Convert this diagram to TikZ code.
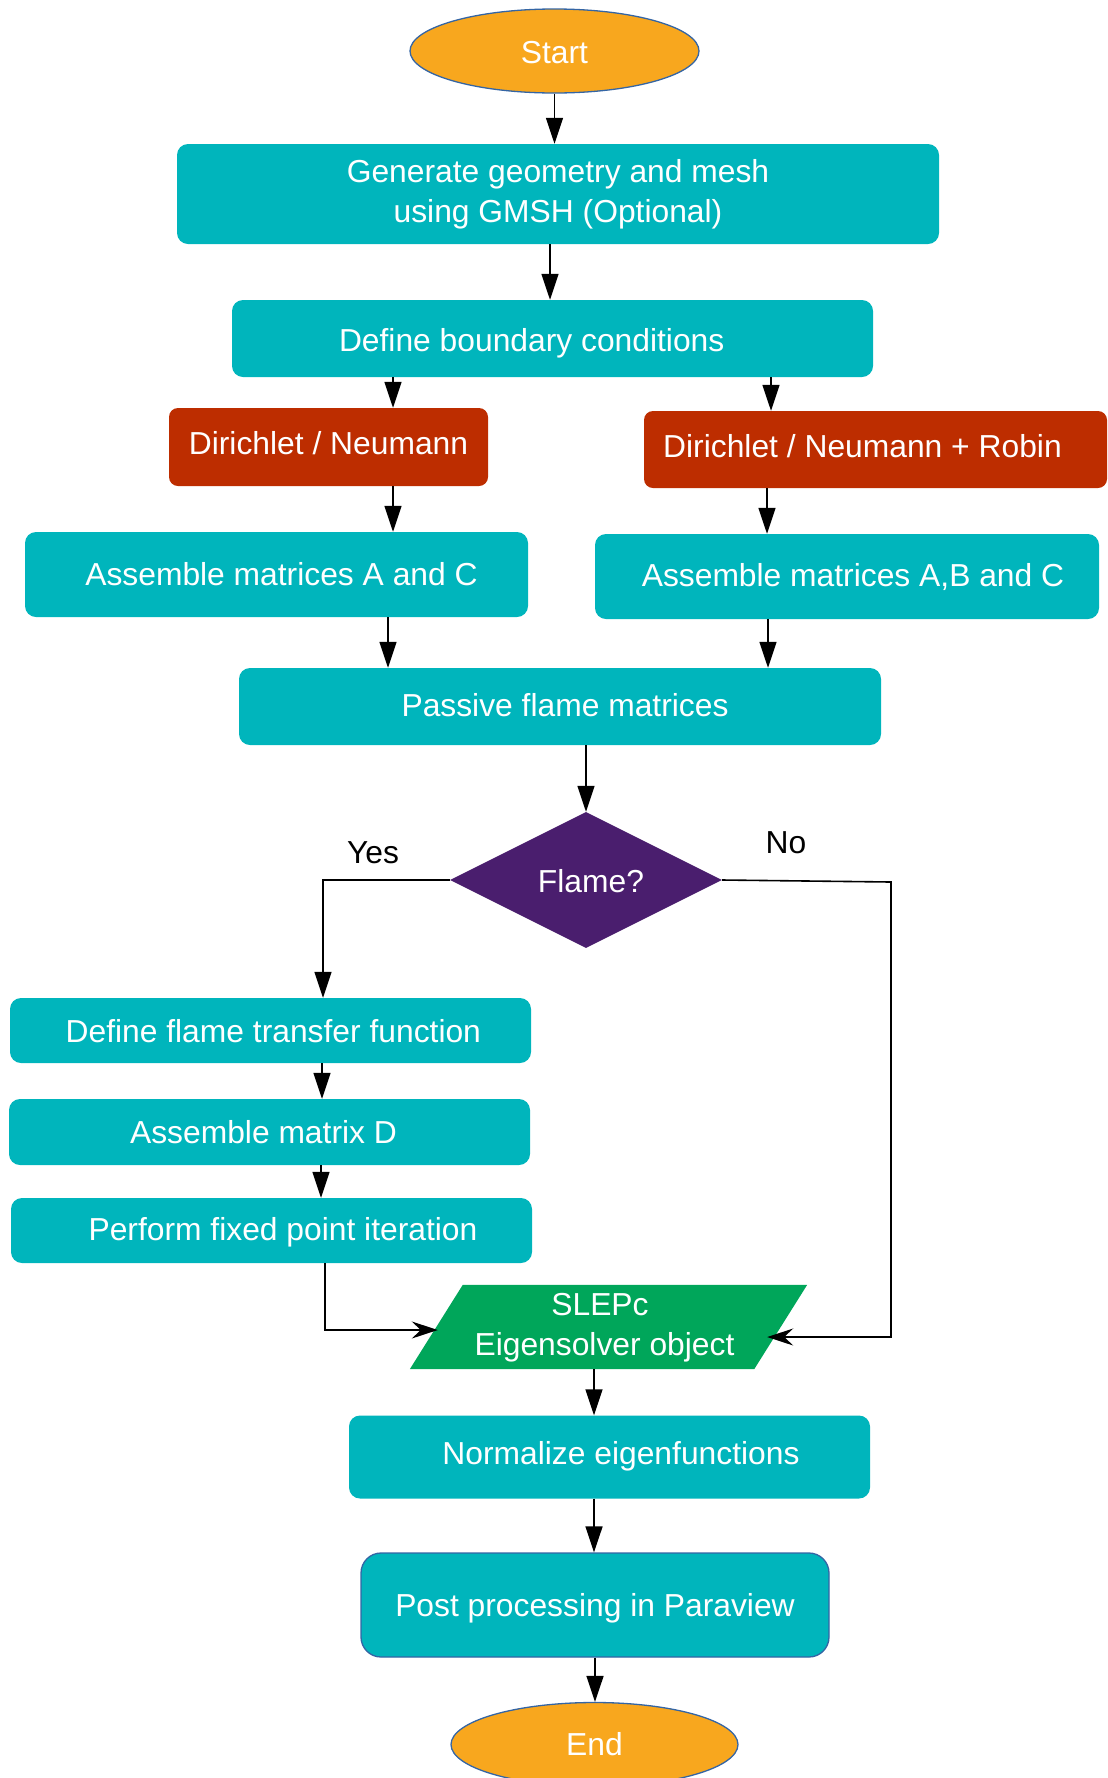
\documentclass[tikz,border=0pt]{standalone}
\usepackage{fontspec}
\setmainfont{Liberation Sans}
\usetikzlibrary{shapes.geometric,arrows.meta,backgrounds}
\definecolor{tealbox}{RGB}{0,181,188}
\definecolor{orng}{RGB}{248,167,30}
\definecolor{redbox}{RGB}{189,45,0}
\definecolor{purp}{RGB}{74,30,110}
\definecolor{grn}{RGB}{0,166,90}
\definecolor{bord}{RGB}{52,101,164}
\begin{document}
\begin{tikzpicture}[x=1pt,y=-1pt,
  every node/.style={font=\fontsize{31.8}{40}\selectfont, inner sep=0pt},
  bl/.style 2 args={text height=#1pt, text depth=#2pt},
  tbox/.style={rectangle, rounded corners=11pt, fill=tealbox, text=white},
  rbox/.style={rectangle, rounded corners=9pt, fill=redbox, text=white},
  term/.style={ellipse, fill=orng, draw=bord, line width=1.3pt, text=white},
  arr/.style={line width=1.6pt, -{Triangle[width=17pt,length=26pt]}},
  sarr/.style={line width=1.6pt, -{Stealth[width=17pt,length=26pt,inset=9pt]}},
  lbl/.style={text=black}
]
\useasboundingbox (0,0) rectangle (1108,1778);

\node[term, bl={27.3}{2.7}, minimum width=289pt, minimum height=84pt] (start) at (554.5,51) {Start};
\node[tbox, minimum width=762pt, minimum height=100pt, align=center] (gen) at (558,194) {Generate geometry and mesh\\using GMSH (Optional)};
\node[tbox, bl={28}{2}, minimum width=641pt, minimum height=77pt] (bc) at (552.5,338.5) {\hspace*{-41.6pt}Define boundary conditions};
\node[rbox, bl={22.8}{7.2}, minimum width=319pt, minimum height=78pt] (dn) at (328.5,447) {Dirichlet / Neumann};
\node[rbox, bl={23.2}{6.8}, minimum width=463pt, minimum height=77pt] (dnr) at (875.5,449.5) {\hspace*{-26pt}Dirichlet / Neumann + Robin};
\node[tbox, bl={25.5}{4.5}, minimum width=503pt, minimum height=85pt] (aac) at (276.5,574.5) {\hspace*{10pt}Assemble matrices A and C};
\node[tbox, bl={24.8}{5.2}, minimum width=504pt, minimum height=85pt] (aabc) at (847,576.5) {\hspace*{12pt}Assemble matrices A,B and C};
\node[tbox, bl={25.4}{4.6}, minimum width=642pt, minimum height=77pt] (pass) at (560,706.5) {\hspace*{10pt}Passive flame matrices};
\node[diamond, aspect=2, fill=purp, text=white, bl={27.4}{2.6}, minimum width=272pt, minimum height=136pt] (flame) at (586,880) {\hspace*{10pt}Flame?};
\node[tbox, bl={27.3}{2.7}, minimum width=521pt, minimum height=65pt] (dftf) at (270.5,1030.5) {\hspace*{5.6pt}Define flame transfer function};
\node[tbox, bl={26.4}{3.6}, minimum width=521pt, minimum height=66pt] (ad) at (269.5,1132) {\hspace*{-12pt}Assemble matrix D};
\node[tbox, bl={25.2}{4.8}, minimum width=521pt, minimum height=65pt] (perf) at (271.5,1230.5) {\hspace*{23pt}Perform fixed point iteration};
\node[text=white, bl={3.7}{26.3}, minimum width=344pt, minimum height=84pt] (slepc) at (608.5,1327) {\hspace*{-8pt}\begin{tabular}[t]{@{}c@{}}SLEPc\hspace*{9pt}\\Eigensolver object\end{tabular}};
\node[tbox, bl={22.3}{7.7}, minimum width=521pt, minimum height=83pt] (norm) at (609.5,1457) {\hspace*{23pt}Normalize eigenfunctions};
\node[tbox, bl={26.7}{3.3}, rounded corners=20pt, draw=bord, line width=1.3pt, minimum width=468pt, minimum height=104pt] (post) at (595,1605) {Post processing in Paraview};
\node[term, bl={26.3}{3.7}, minimum width=287pt, minimum height=84pt] (end) at (594.5,1744.5) {End};

\begin{pgfonlayer}{background}
\fill[grn] ([xshift=26.5pt]slepc.north west) -- ([xshift=26.5pt]slepc.north east)
  -- ([xshift=-26.5pt]slepc.south east) -- ([xshift=-26.5pt]slepc.south west) -- cycle;
\end{pgfonlayer}

\node[lbl] (yes) at (373,853) {Yes};
\node[lbl] (no) at (786,843) {No};

\coordinate (nocorner) at (891,882);
\coordinate (nobottom) at (891,1337);

\draw[arr] (start.south) -- (start.south |- gen.north);
\draw[arr] (gen.south -| 550,0) -- (bc.north -| 550,0);
\draw[arr] (bc.south -| 393,0) -- (dn.north -| 393,0);
\draw[arr] (bc.south -| 771,0) -- (dnr.north -| 771,0);
\draw[arr] (dn.south -| 393,0) -- (aac.north -| 393,0);
\draw[arr] (dnr.south -| 767,0) -- (aabc.north -| 767,0);
\draw[arr] (aac.south -| 388,0) -- (pass.north -| 388,0);
\draw[arr] (aabc.south -| 768,0) -- (pass.north -| 768,0);
\draw[arr] (pass.south -| flame.north) -- (flame.north);
\draw[arr] (flame.west) -| (dftf.north -| 323,0);
\draw[sarr] (flame.east) -- (nocorner) -- (nobottom) -- ([xshift=-13.5pt,yshift=-10pt]slepc.east);
\draw[arr] (dftf.south -| 322,0) -- (ad.north -| 322,0);
\draw[arr] (ad.south -| 321,0) -- (perf.north -| 321,0);
\draw[sarr] (perf.south -| 325,0) |- ([xshift=1.5pt,yshift=-3pt]slepc.west);
\draw[arr] (slepc.south -| 594,0) -- (norm.north -| 594,0);
\draw[arr] (norm.south -| 594,0) -- (post.north -| 594,0);
\draw[arr] (post.south -| 595,0) -- (end.north -| 595,0);
\end{tikzpicture}
\end{document}
